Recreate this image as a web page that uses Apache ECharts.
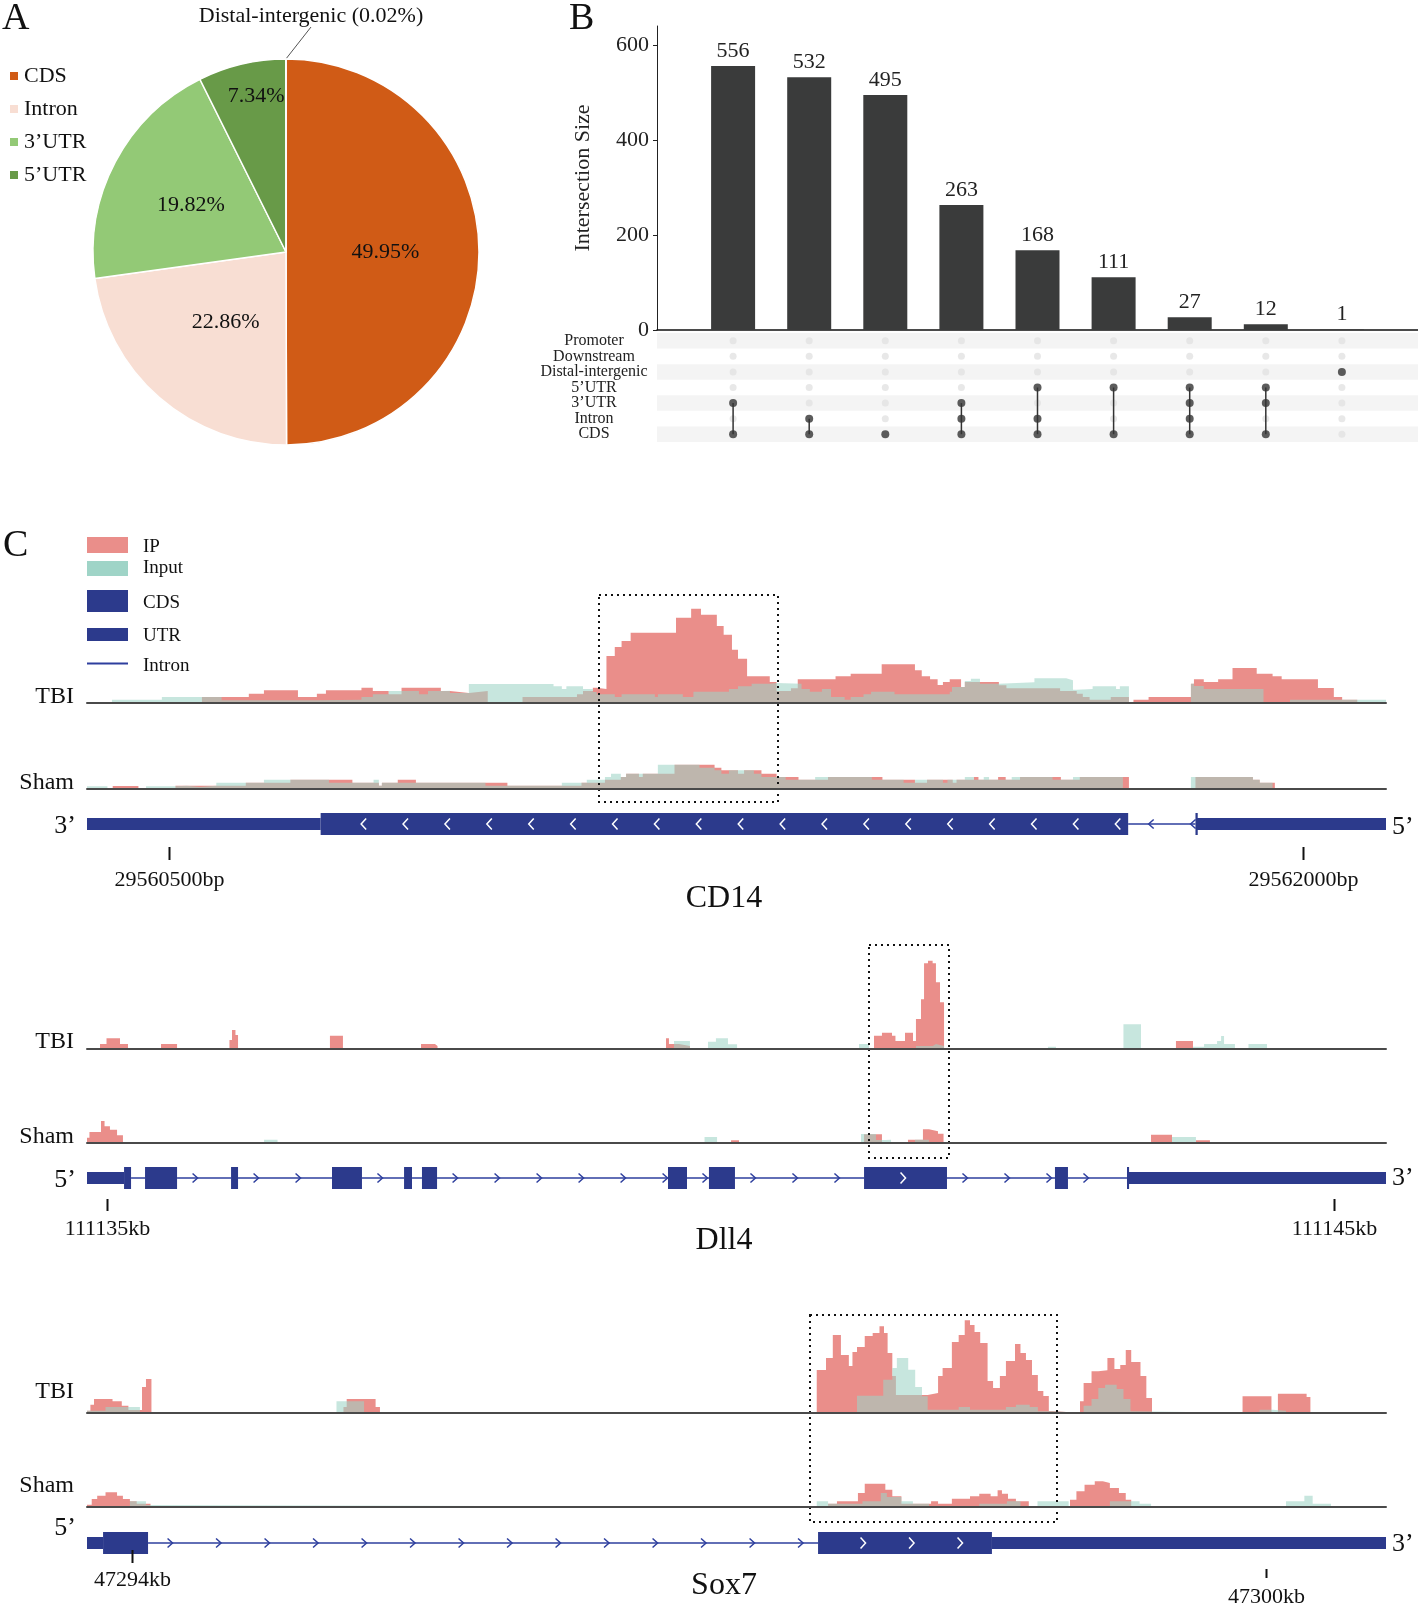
<!DOCTYPE html>
<html><head><meta charset="utf-8">
<script src="https://cdn.jsdelivr.net/npm/echarts@6/dist/echarts.min.js"></script>
<style>html,body{margin:0;padding:0;background:#fff}#c{width:1418px;height:1606px}</style>
</head><body><div id="c"></div>
<script>
// ================= DATA =================
// Panel A
const pieNames = ['CDS', 'Intron', '3’UTR', '5’UTR', 'Distal-intergenic'];
const piePercents = [49.95, 22.86, 19.82, 7.34, 0.02];
const pieColors = ['#D05B16', '#F8DED3', '#93C976', '#689A48', '#707070'];

// Panel B
const upsetSets = ['Promoter', 'Downstream', 'Distal-intergenic', '5’UTR', '3’UTR', 'Intron', 'CDS'];
const upsetSizes = [556, 532, 495, 263, 168, 111, 27, 12, 1];
const upsetMembers = [
  ['3’UTR', 'CDS'], ['Intron', 'CDS'], ['CDS'], ['3’UTR', 'Intron', 'CDS'],
  ['5’UTR', 'Intron', 'CDS'], ['5’UTR', 'CDS'], ['5’UTR', '3’UTR', 'Intron', 'CDS'],
  ['5’UTR', '3’UTR', 'CDS'], ['Distal-intergenic']
];
const upsetYTicks = [0, 200, 400, 600];

// Panel C : CD14 (positions = bp offset from 29560000, value = coverage height)
const CD14_BASE = 29560000;
const cd14Range = [392, 2110];
const cd14TbiIP = [[392,0],[544,6],[606,9.3],[626,12.7],[671,6],[696,9.3],[708,12.7],[755,15.3],[770,12],[791,8.7],[808,15.3],[860,12],[872,10],[897,12],[922,0],[968,6],[1040,8.7],[1048,12],[1061,15.3],[1066,14],[1079,47],[1090,56],[1099,62],[1111,70.3],[1171,85.3],[1191,94.3],[1204,88.3],[1225,77],[1234,68.3],[1245,53.3],[1253,44.3],[1265,26.7],[1295,21],[1304,12],[1323,14.7],[1332,23.7],[1382,26.7],[1402,29.3],[1443,38.7],[1487,32.7],[1496,26.7],[1507,23.7],[1517,18],[1524,21],[1533,23.7],[1548,16],[1553,21],[1598,17.7],[1608,14.7],[1679,12],[1701,9.3],[1709,6],[1718,3.3],[1746,6],[1770,0],[1776,3.3],[1796,6],[1852,19.3],[1856,23.7],[1869,21],[1888,23.7],[1907,35],[1939,29.3],[1960,26.7],[1972,23.7],[2020,15],[2041,6],[2052,3.3],[2072,0],[2110,0]];
const cd14TbiInput = [[392,0],[425,3.3],[491,6],[570,2.7],[696,3.3],[755,6],[770,8.7],[791,12],[831,8.7],[843,12],[860,12.3],[872,10],[897,19],[1009,16.7],[1020,14],[1026,16.7],[1048,14],[1061,11],[1066,8.7],[1090,6],[1099,8.7],[1143,6],[1147,8.7],[1180,6],[1194,11.3],[1241,14],[1253,16.7],[1271,19.3],[1295,20],[1304,19.3],[1337,14],[1348,11.3],[1364,14],[1376,6],[1394,3.3],[1402,6],[1419,8.7],[1429,11.3],[1460,8.7],[1533,11.3],[1536,16],[1553,22],[1561,24.3],[1573,19.3],[1598,20.7],[1645,24.7],[1687,22.7],[1696,13.3],[1701,14],[1722,16.7],[1753,14],[1758,16.7],[1770,0],[1852,19.3],[1856,17],[1869,14],[1948,0],[1983,3.3],[2110,3]];
const cd14ShamIP = [[392,0],[426,3],[460,0],[509,3.3],[602,6.3],[661,9.3],[743,6.3],[778,3.3],[782,6.3],[803,9.3],[827,6.3],[948,3.3],[1046,6.3],[1077,9.3],[1098,12],[1105,15.3],[1122,12],[1127,15.3],[1169,24.3],[1222,21.3],[1231,18.7],[1253,15.3],[1261,18.7],[1284,15.3],[1304,12],[1333,9.3],[1372,12],[1444,9.3],[1487,6.3],[1503,9.3],[1537,6.3],[1542,9.3],[1565,12],[1571,9.3],[1597,12],[1607,9.3],[1626,12],[1680,9.3],[1705,12],[1770,0],[1858,12],[1934,9.3],[1943,6.3],[1963,0],[2110,0]];
const cd14ShamInput = [[392,2.7],[419,0],[470,2.7],[509,3.3],[524,2],[541,3.3],[563,6.3],[626,9.3],[712,6.3],[771,9.3],[778,3.3],[782,6.3],[919,3.3],[1020,6.3],[1053,9.3],[1077,12],[1085,15.3],[1098,12],[1105,15.3],[1147,24.3],[1202,21.3],[1222,18.7],[1231,15.3],[1241,18.7],[1274,15.3],[1284,12],[1316,9.3],[1355,12],[1430,9.3],[1472,6.3],[1487,9.3],[1524,6.3],[1530,9.3],[1553,12],[1565,9.3],[1578,12],[1585,9.3],[1615,12],[1669,9.3],[1696,12],[1762,0],[1852,12],[1934,9.3],[1943,6.3],[1960,0],[2110,0]];
const cd14Exons = [[392,701,0],[701,1769,1],[1858,1861,1],[1860,2110,0]];
const cd14Ticks = [29560500, 29562000];
const cd14TickLabels = ['29560500bp', '29562000bp'];
const cd14Box = [1069, 1306];

// Dll4 (bp offset from 111135000)
const DLL4_BASE = 111135000;
const dll4Range = [-163, 10424];
const dll4TbiIP = [[-163,0],[-57,5],[-4,10.7],[106,5],[171,0],[440,5],[571,0],[998,9],[1019,19],[1047,14],[1068,0],[1817,13.3],[1923,0],[2559,5],[2673,3],[2694,0],[4556,10.7],[4580,5],[4662,3],[4751,0],[6251,13.3],[6316,16.3],[6398,13.3],[6426,8],[6504,16.3],[6569,8],[6593,30],[6634,49.7],[6659,85.7],[6691,88.3],[6729,85.7],[6756,66.7],[6789,46.7],[6822,0],[8712,8],[8851,0],[10424,0]];
const dll4TbiInput = [[-163,0],[4621,8],[4751,0],[4898,7.3],[4963,10.7],[5061,4.7],[5135,0],[6129,5],[6210,0],[6593,3],[6729,5],[6756,3],[6822,0],[7669,2.3],[7734,0],[8284,24.7],[8427,0],[8851,2.3],[8941,5],[9047,8],[9080,13],[9104,5],[9193,0],[9303,5],[9454,0],[10424,0]];
const dll4ShamIP = [[-163,5.3],[-143,11],[-49,22],[-20,16.7],[24,13.3],[82,7.7],[130,0],[5086,2.7],[5151,0],[6170,8.7],[6316,0],[6528,3.3],[6650,13.7],[6699,11.7],[6773,9.3],[6818,0],[8509,8.3],[8680,0],[8875,2.7],[8989,0],[10424,0]];
const dll4ShamInput = [[-163,0],[1280,3.3],[1390,0],[4870,6],[4972,0],[6145,9],[6267,3],[6341,3.3],[6390,0],[6585,3.3],[6699,0],[8680,6],[8875,0],[10424,0]];
const dll4Exons = [[-163,139,0],[139,196,1],[310,571,1],[1011,1068,1],[1834,2078,1],[2421,2486,1],[2567,2690,1],[4572,4727,1],[4906,5118,1],[6170,6846,1],[7726,7832,1],[8313,8330,1],[8313,10424,0]];
const dll4Ticks = [111135000, 111145000];
const dll4TickLabels = ['111135kb', '111145kb'];
const dll4Box = [6210, 6862];

// Sox7 (bp offset from 47294000)
const SOX7_BASE = 47294000;
const sox7Range = [-238, 6635];
const sox7TbiIP = [[-238,2.3],[-220,8.3],[-201,14],[-103,11.7],[-54,7.3],[-19,3],[53,26],[74,34],[103,0],[1119,6],[1136,14],[1289,6],[1312,0],[3623,43],[3672,55],[3708,78],[3751,58],[3793,47],[3812,61],[3836,66],[3877,77],[3919,80],[3955,86.7],[3979,80],[3998,60],[4023,37],[4042,18],[4210,20],[4265,37],[4289,45],[4338,71],[4374,78],[4406,92.7],[4434,88],[4458,81],[4488,70],[4527,32],[4556,25],[4592,37],[4624,52],[4672,69],[4701,60],[4730,53],[4762,38],[4793,22],[4822,17],[4851,2],[4871,0],[5016,11.7],[5035,30],[5077,41.7],[5113,42.7],[5161,55],[5198,44],[5229,48],[5258,63],[5287,51],[5336,37],[5367,15],[5397,0],[5876,16.7],[6029,0],[6063,19.3],[6215,16],[6235,0],[6635,0]];
const sox7TbiInput = [[-238,2.3],[-140,6],[42,0],[1082,11.7],[1228,0],[3836,17.3],[3975,33.3],[4023,45],[4047,55],[4107,43.3],[4144,26],[4180,16.7],[4210,3.3],[4374,6],[4434,3.3],[4624,6],[4677,8.3],[4750,6],[4793,1.7],[4871,0],[5035,7.3],[5077,14],[5113,25],[5149,28.3],[5210,24],[5246,14],[5283,1.7],[5295,0],[5966,3.3],[6034,2.3],[6106,0],[6635,0]];
const sox7ShamIP = [[-238,2.3],[-213,8],[-184,11.3],[-140,14.7],[-79,11.3],[-48,8],[-11,5.7],[25,3.3],[98,0],[3683,3.3],[3730,5.7],[3841,14],[3877,23.3],[3986,17.3],[4023,10.7],[4071,3.3],[4228,5.7],[4265,3.3],[4338,8.3],[4434,10.7],[4483,13.3],[4543,10.7],[4580,16.7],[4603,13.3],[4635,8.3],[4677,5.7],[4745,0],[4963,7.3],[4997,15.7],[5040,22.3],[5094,25.7],[5137,24],[5174,19],[5222,14],[5258,7.3],[5287,0],[6635,0]];
const sox7ShamInput = [[-238,0],[-11,5.7],[74,2],[98,0],[3623,5.7],[3683,3.3],[3865,5.7],[3962,14],[3994,10],[4071,5.7],[4132,3.3],[4217,0],[4483,3.3],[4629,5.7],[4701,0],[4791,5.7],[4956,0],[5174,5.7],[5331,3.3],[5392,0],[6106,5.7],[6203,11.3],[6247,3.3],[6344,0],[6635,0]];
const sox7Exons = [[-238,-153,0],[-153,85,1],[3630,4550,1],[4550,6635,0]];
const sox7Ticks = [47294000, 47300000];
const sox7TickLabels = ['47294kb', '47300kb'];
const sox7Box = [3587, 4894];

// ================= STYLE / LAYOUT =================
const FONT = 'Liberation Serif, "Times New Roman", serif';
const IP_COLOR = '#EA8E8A', INPUT_COLOR = '#9FD4C7', INPUT_OPACITY = 0.58;
const GENE_COLOR = '#2C3A8C', INTRON_COLOR = '#2E3F9E';
const TRACK_LEFT = 87, TRACK_WIDTH = 1299, TRACK_H = 100;

const genes = [
  { name: 'CD14', base: CD14_BASE, range: cd14Range, tIP: cd14TbiIP, tIn: cd14TbiInput, sIP: cd14ShamIP, sIn: cd14ShamInput,
    exons: cd14Exons, ticks: cd14Ticks, tickLabels: cd14TickLabels, box: cd14Box, dir: -1,
    tbiY: 703, shamY: 789, geneY: 824, intronOff: 23, cdsOff: 43, spacing: 41.9,
    boxTop: 595, boxBottom: 802, tickY: [[847, 860, 880], [847, 860, 880]], nameY: 899,
    left: '3’', right: '5’', tbiLabelY: 697, shamLabelY: 783, leftY: 826, rightY: 827 },
  { name: 'Dll4', base: DLL4_BASE, range: dll4Range, tIP: dll4TbiIP, tIn: dll4TbiInput, sIP: dll4ShamIP, sIn: dll4ShamInput,
    exons: dll4Exons, ticks: dll4Ticks, tickLabels: dll4TickLabels, box: dll4Box, dir: 1,
    tbiY: 1049, shamY: 1143, geneY: 1178, intronOff: 18, cdsOff: 39, spacing: 42,
    boxTop: 945, boxBottom: 1158, tickY: [[1199, 1211, 1229], [1199, 1211, 1229]], nameY: 1241,
    left: '5’', right: '3’', tbiLabelY: 1042, shamLabelY: 1137, leftY: 1180, rightY: 1178 },
  { name: 'Sox7', base: SOX7_BASE, range: sox7Range, tIP: sox7TbiIP, tIn: sox7TbiInput, sIP: sox7ShamIP, sIn: sox7ShamInput,
    exons: sox7Exons, ticks: sox7Ticks, tickLabels: sox7TickLabels, box: sox7Box, dir: 1,
    tbiY: 1413, shamY: 1507, geneY: 1543, intronOff: 22, cdsOff: 45, spacing: 48.5,
    boxTop: 1315, boxBottom: 1522, tickY: [[1550, 1563, 1580], [1569, 1578, 1597]], nameY: 1586,
    left: '5’', right: '3’', tbiLabelY: 1392, shamLabelY: 1486, leftY: 1528, rightY: 1544 }
];

// ================= BUILD =================
const chart = echarts.init(document.getElementById('c'), null, { renderer: 'canvas', width: 1418, height: 1606 });

const grids = [], xAxes = [], yAxes = [], series = [], graphics = [];

// ---- Panel A pie
series.push({
  type: 'pie', center: [286, 252], radius: 193, startAngle: 90, clockwise: true,
  animation: false, silent: true,
  itemStyle: { borderColor: '#fff', borderWidth: 1.5 },
  label: { show: true, position: 'inside', fontFamily: FONT, fontSize: 22, color: '#111',
           formatter: p => p.value.toFixed(2) + '%' },
  labelLayout: function (p) {
    if (p.dataIndex === 1) return { dx: 5, dy: -5 };
    if (p.dataIndex === 2) return { dx: -7, dy: 0 };
    if (p.dataIndex === 3) return { dx: -7, dy: -59 };
    if (p.dataIndex === 4) return { x: 311, y: 16, align: 'center', verticalAlign: 'middle' };
    return {};
  },
  data: pieNames.map((n, i) => {
    const d = { name: n, value: piePercents[i], itemStyle: { color: pieColors[i] } };
    if (i === 4) {
      d.label = { position: 'outside', formatter: n + ' (' + piePercents[i].toFixed(2) + '%)', color: '#111' };
      d.labelLine = { show: true, length: 10, length2: 0, lineStyle: { color: '#555', width: 1 } };
    }
    return d;
  })
});

// ---- Panel B: bars
grids.push({ left: 657, width: 761, top: 26, height: 304 });
xAxes.push({ type: 'value', gridIndex: 0, min: 0, max: 10, axisLine: { show: true, onZero: false, lineStyle: { color: '#111', width: 1.5 } },
  axisTick: { show: false }, axisLabel: { show: false }, splitLine: { show: false } });
yAxes.push({ type: 'value', gridIndex: 0, min: 0, max: 640, interval: 200,
  axisLine: { show: true, lineStyle: { color: '#222', width: 1 } },
  axisTick: { show: true, length: 4, lineStyle: { color: '#222' }, customValues: upsetYTicks },
  axisLabel: { fontFamily: FONT, fontSize: 22, color: '#222', margin: 8, customValues: upsetYTicks },
  splitLine: { show: false },
  name: 'Intersection Size', nameLocation: 'middle', nameGap: 63,
  nameTextStyle: { fontFamily: FONT, fontSize: 22, color: '#222' } });
series.push({ type: 'bar', xAxisIndex: 0, yAxisIndex: 0, barWidth: 44, animation: false, silent: true,
  itemStyle: { color: '#3A3B3B' },
  label: { show: true, position: 'top', distance: 4, fontFamily: FONT, fontSize: 22, color: '#222' },
  data: upsetSizes.map((v, i) => [i + 1, v]) });

// ---- Panel B: matrix
grids.push({ left: 657, width: 761, top: 333, height: 109 });
xAxes.push({ type: 'value', gridIndex: 1, min: 0, max: 10, show: false });
yAxes.push({ type: 'category', gridIndex: 1, inverse: true, data: upsetSets,
  axisLine: { show: false }, axisTick: { show: false },
  axisLabel: { interval: 0, fontFamily: FONT, fontSize: 16, color: '#222', align: 'center', margin: 63 },
  splitArea: { show: true, interval: 0, areaStyle: { color: ['#F4F4F4', 'rgba(255,255,255,0)'] } } });
const inactiveDots = [], activeDots = [], connectors = [];
upsetMembers.forEach((mem, c) => {
  const rows = [];
  upsetSets.forEach((s, r) => {
    if (mem.includes(s)) { activeDots.push([c + 1, r]); rows.push(r); }
    else inactiveDots.push([c + 1, r]);
  });
  if (rows.length > 1) connectors.push([c + 1, Math.min(...rows), Math.max(...rows)]);
});
series.push({ type: 'scatter', xAxisIndex: 1, yAxisIndex: 1, symbolSize: 7, silent: true, animation: false,
  itemStyle: { color: '#E2E2E2' }, data: inactiveDots, z: 2 });
series.push({ type: 'custom', xAxisIndex: 1, yAxisIndex: 1, silent: true, animation: false, z: 3,
  encode: { x: 0, y: [1, 2] },
  renderItem: (params, api) => {
    const a = api.coord([api.value(0), api.value(1)]);
    const b = api.coord([api.value(0), api.value(2)]);
    return { type: 'line', shape: { x1: a[0], y1: a[1], x2: b[0], y2: b[1] }, style: { stroke: '#333', lineWidth: 1.5 } };
  },
  data: connectors });
series.push({ type: 'scatter', xAxisIndex: 1, yAxisIndex: 1, symbolSize: 8, silent: true, animation: false,
  itemStyle: { color: '#333' }, data: activeDots, z: 4 });

// ---- Panel C tracks
function chevron(x, cy, dir, h, color) {
  return { type: 'polyline', shape: { points: [[x - 2.5 * dir, cy - h], [x + 2.5 * dir, cy], [x - 2.5 * dir, cy + h]] },
           style: { stroke: color, lineWidth: 1.5, fill: null } };
}
function areaSeries(data, base, ai, color, opacity, z) {
  return { type: 'line', xAxisIndex: ai, yAxisIndex: ai, step: 'end', showSymbol: false, symbol: 'none',
    silent: true, animation: false, z: z, lineStyle: { opacity: 0, width: 1 },
    areaStyle: { color: color, opacity: opacity },
    data: data.map(d => [base + d[0], d[1]]) };
}

genes.forEach((g, gi) => {
  const min = g.base + g.range[0], max = g.base + g.range[1];
  const iT = grids.length, iS = iT + 1, iG = iT + 2;
  grids.push({ left: TRACK_LEFT, width: TRACK_WIDTH, top: g.tbiY - TRACK_H, height: TRACK_H });
  grids.push({ left: TRACK_LEFT, width: TRACK_WIDTH, top: g.shamY - TRACK_H, height: TRACK_H });
  grids.push({ left: TRACK_LEFT, width: TRACK_WIDTH, top: g.geneY - 20, height: 40 });
  [iT, iS].forEach(i => {
    xAxes.push({ type: 'value', gridIndex: i, min, max, z: 10,
      axisLine: { show: true, onZero: false, lineStyle: { color: '#4a4a4a', width: 2 } },
      axisTick: { show: false }, axisLabel: { show: false }, splitLine: { show: false } });
    yAxes.push({ type: 'value', gridIndex: i, min: 0, max: TRACK_H, show: false });
  });
  xAxes.push({ type: 'value', gridIndex: iG, min, max, show: false });
  yAxes.push({ type: 'value', gridIndex: iG, min: 0, max: 1, show: false });

  series.push(areaSeries(g.tIP, g.base, iT, IP_COLOR, 1, 2));
  series.push(areaSeries(g.tIn, g.base, iT, INPUT_COLOR, INPUT_OPACITY, 3));
  series.push(areaSeries(g.sIP, g.base, iS, IP_COLOR, 1, 2));
  series.push(areaSeries(g.sIn, g.base, iS, INPUT_COLOR, INPUT_OPACITY, 3));

  // gene model: introns (gaps) + exons
  const sorted = g.exons.slice().sort((a, b) => a[0] - b[0]);
  const items = [];
  let reach = sorted[0][1];
  for (let k = 1; k < sorted.length; k++) {
    if (sorted[k][0] > reach) items.push([g.base + reach, g.base + sorted[k][0], 2]);
    reach = Math.max(reach, sorted[k][1]);
  }
  sorted.forEach(e => items.push([g.base + e[0], g.base + e[1], e[2]]));
  series.push({ type: 'custom', xAxisIndex: iG, yAxisIndex: iG, silent: true, animation: false, clip: false, z: 5,
    encode: { x: [0, 1] },
    renderItem: (params, api) => {
      const x0 = api.coord([api.value(0), 0])[0];
      const x1 = api.coord([api.value(1), 0])[0];
      const kind = api.value(2);
      const cy = g.geneY;
      const ch = [];
      if (kind === 2) {
        ch.push({ type: 'line', shape: { x1: x0, y1: cy, x2: x1, y2: cy }, style: { stroke: INTRON_COLOR, lineWidth: 1.5 } });
        for (let x = x0 + g.intronOff; x < x1 - 2; x += g.spacing) ch.push(chevron(x, cy, g.dir, 4.5, INTRON_COLOR));
      } else {
        const hh = kind === 1 ? 11 : 6;
        ch.push({ type: 'rect', shape: { x: x0, y: cy - hh, width: Math.max(x1 - x0, 1.5), height: 2 * hh }, style: { fill: GENE_COLOR } });
        if (kind === 1) for (let x = x0 + g.cdsOff; x < x1 - 6; x += g.spacing) ch.push(chevron(x, cy, g.dir, 5.5, '#ffffff'));
      }
      return { type: 'group', children: ch };
    },
    data: items });

  // coordinate ticks
  series.push({ type: 'custom', xAxisIndex: iG, yAxisIndex: iG, silent: true, animation: false, clip: false, z: 6,
    encode: { x: 0 },
    renderItem: (params, api) => {
      const i = params.dataIndex;
      const x = Math.round(api.coord([api.value(0), 0])[0]) + 0.5;
      const ty = g.tickY[i];
      return { type: 'group', children: [
        { type: 'line', shape: { x1: x, y1: ty[0], x2: x, y2: ty[1] }, style: { stroke: '#111', lineWidth: 2 } },
        { type: 'text', style: { x: x, y: ty[2], text: g.tickLabels[i], align: 'center', verticalAlign: 'middle',
          font: '22px ' + FONT, fill: '#111' } } ] };
    },
    data: g.ticks.map((t, i) => [t, i]) });

  // dotted highlight box
  series.push({ type: 'custom', xAxisIndex: iT, yAxisIndex: iT, silent: true, animation: false, clip: false, z: 7,
    encode: { x: [0, 1] },
    renderItem: (params, api) => {
      const x0 = Math.round(api.coord([api.value(0), 0])[0]);
      const x1 = Math.round(api.coord([api.value(1), 0])[0]);
      return { type: 'rect', shape: { x: x0, y: g.boxTop, width: x1 - x0, height: g.boxBottom - g.boxTop },
        style: { fill: null, stroke: '#111', lineWidth: 2, lineDash: [2, 4] } };
    },
    data: [[g.base + g.box[0], g.base + g.box[1]]] });

  // texts
  const t = (text, x, y, size, align) => ({ type: 'text', silent: true,
    style: { text, x, y, font: size + 'px ' + FONT, fill: '#111', align, verticalAlign: 'middle' } });
  graphics.push(t('TBI', 74, g.tbiLabelY, 24, 'right'));
  graphics.push(t('Sham', 74, g.shamLabelY, 24, 'right'));
  graphics.push(t(g.left, 76, g.leftY, 26, 'right'));
  graphics.push(t(g.right, 1392, g.rightY, 26, 'left'));
  graphics.push(t(g.name, 724, g.nameY, 32, 'center'));
});

// panel letters
const letter = (s, x, y) => ({ type: 'text', silent: true, style: { text: s, x, y, font: '38px ' + FONT, fill: '#111', verticalAlign: 'middle' } });
graphics.push(letter('A', 2, 19), letter('B', 569, 19), letter('C', 3, 546));

// Panel C legend
graphics.push(
  { type: 'rect', shape: { x: 87, y: 537, width: 41, height: 16 }, style: { fill: IP_COLOR } },
  { type: 'rect', shape: { x: 87, y: 561, width: 41, height: 15 }, style: { fill: INPUT_COLOR } },
  { type: 'rect', shape: { x: 87, y: 590, width: 41, height: 22 }, style: { fill: GENE_COLOR } },
  { type: 'rect', shape: { x: 87, y: 628, width: 41, height: 13 }, style: { fill: GENE_COLOR } },
  { type: 'line', shape: { x1: 87, y1: 663.5, x2: 128, y2: 663.5 }, style: { stroke: INTRON_COLOR, lineWidth: 2 } }
);
[['IP', 547], ['Input', 568], ['CDS', 603], ['UTR', 636], ['Intron', 666]].forEach(([s, y]) => {
  graphics.push({ type: 'text', silent: true, style: { text: s, x: 143, y, font: '19px ' + FONT, fill: '#111', verticalAlign: 'middle' } });
});

chart.setOption({
  animation: false,
  backgroundColor: '#fff',
  textStyle: { fontFamily: FONT },
  legend: { data: pieNames.slice(0, 4), orient: 'vertical', left: 3, top: 60, itemWidth: 10, itemHeight: 10, itemGap: 11,
    icon: 'rect', selectedMode: false, textStyle: { fontFamily: FONT, fontSize: 22, color: '#111' } },
  grid: grids, xAxis: xAxes, yAxis: yAxes, series: series, graphic: graphics
});
</script></body></html>
